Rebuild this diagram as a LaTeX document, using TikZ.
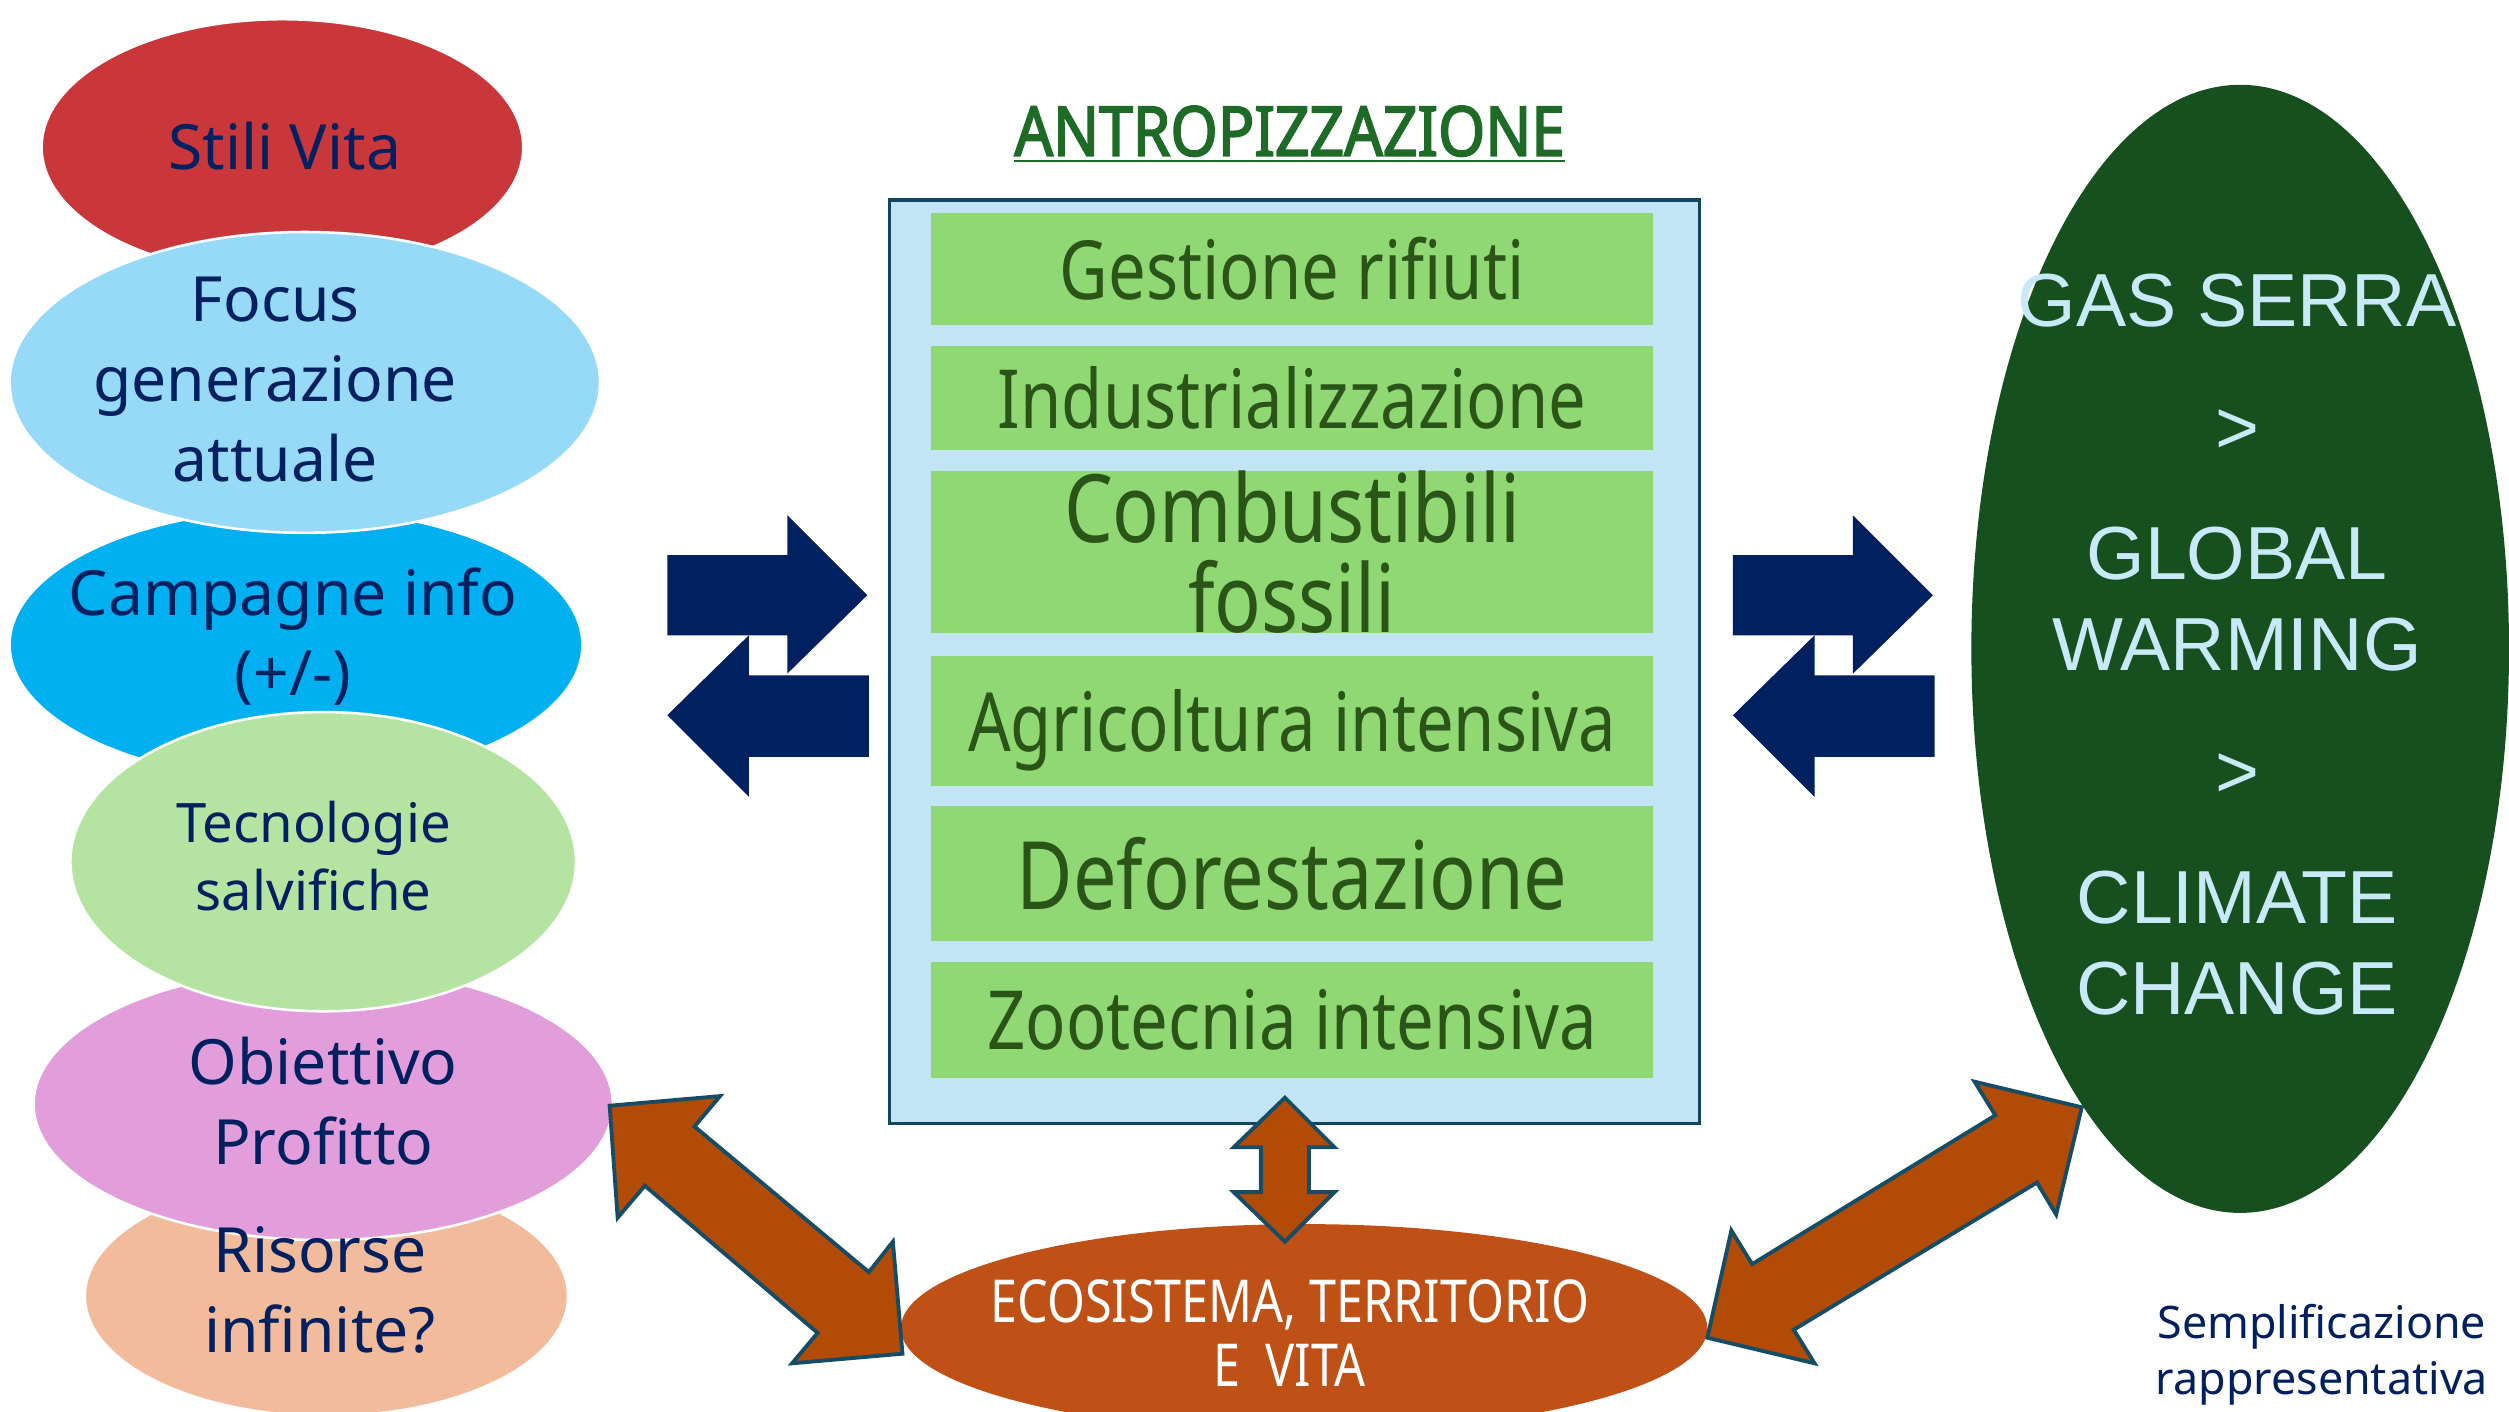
\documentclass[tikz,border=0pt]{standalone}
\usepackage{fontspec}
\setmainfont{Noto Sans}
\newfontfamily\narrowfont[FakeStretch=0.82]{Noto Sans}
\newfontfamily\titlefont[FakeStretch=0.88,FakeBold=2.5]{Noto Sans}
\newfontfamily\widefont{Liberation Sans}
\usetikzlibrary{shapes.geometric}

\definecolor{navy}{HTML}{002060}
\definecolor{stiliRed}{HTML}{C9373A}
\definecolor{focusBlue}{HTML}{97DAF7}
\definecolor{campBlue}{HTML}{00B0F0}
\definecolor{tecnoGreen}{HTML}{B5E4A2}
\definecolor{profitPink}{HTML}{E29DDB}
\definecolor{risorsePeach}{HTML}{F2BC9C}
\definecolor{boxBlue}{HTML}{C1E5F5}
\definecolor{boxEdge}{HTML}{12455E}
\definecolor{barGreen}{HTML}{8FD873}
\definecolor{barText}{HTML}{2B5418}
\definecolor{titleGreen}{HTML}{1E6B28}
\definecolor{climaGreen}{HTML}{17501F}
\definecolor{climaText}{HTML}{C8EAF8}
\definecolor{linkBrown}{HTML}{B24B05}
\definecolor{linkEdge}{HTML}{154D66}
\definecolor{ecoOrange}{HTML}{BF5016}

\begin{document}
\begin{tikzpicture}[x=0.5pt,y=-0.5pt,
    blob/.style={ellipse, draw=white, line width=0.8pt, inner sep=0pt},
    blobtext/.style={text=navy, align=center, inner sep=0pt,
        font=\fontsize{19.5}{25}\selectfont},
    bar/.style={fill=barGreen, minimum width=225.5pt, inner sep=0pt,
        text=barText, align=center, font=\narrowfont\fontsize{25.5}{30}\selectfont},
    flow/.style={fill=navy},
    link/.style={fill=linkBrown, draw=linkEdge, line width=1.2pt, line join=miter}]

    \useasboundingbox (0,0) rectangle (1568,882);

    % left column of ellipses
    \node[blob, fill=stiliRed, minimum width=150.5pt, minimum height=80pt] (stili) at (176.5,92) {};
    \node[blobtext] (stilitxt) at (178,91) {Stili Vita};
    \node[blob, fill=campBlue, minimum width=179pt, minimum height=85pt] (campagne) at (185,403) {};
    \node[blobtext] (campagnetxt) at (183,398) {Campagne info\\(+/-)};
    \node[blob, fill=focusBlue, minimum width=184.5pt, minimum height=94pt] (focus) at (190.5,239) {};
    \node[blobtext] (focustxt) at (172,237) {Focus\\generazione\\attuale};
    \node[blob, fill=risorsePeach, minimum width=151pt, minimum height=75pt] (risorse) at (204,810) {};
    \node[blob, fill=profitPink, minimum width=181pt, minimum height=85pt] (profitto) at (202,690) {};
    \node[blobtext] (profittotxt) at (202,688) {Obiettivo\\Profitto};
    \node[blob, fill=tecnoGreen, minimum width=158pt, minimum height=93.5pt] (tecno) at (202,538.5) {};
    \node[blobtext, font=\fontsize{17}{21}\selectfont] (tecnotxt) at (196,535) {Tecnologie\\salvifiche};
    \node[blobtext] (risorsetxt) at (200,806) {Risorse\\infinite?};

    % central box
    \node[text=titleGreen, font=\titlefont\fontsize{21.5}{25}\selectfont] (titolo) at (806,84) {\underline{ANTROPIZZAZIONE}};
    \node[draw=boxEdge, fill=boxBlue, line width=1pt, minimum width=253pt, minimum height=288.5pt] (antro) at (809,413.5) {};
    \node[bar, minimum height=35pt] (rifiuti) at (807.5,168) {Gestione rifiuti};
    \node[bar, minimum height=32.5pt] (industria) at (807.5,248.5) {Industrializzazione};
    \node[bar, minimum height=50pt, font=\narrowfont\fontsize{29.5}{28}\selectfont] (fossili) at (807.5,345) {Combustibili\\fossili};
    \node[bar, minimum height=40.5pt, text depth=0pt] (agricoltura) at (807.5,450.5) {Agricoltura intensiva};
    \node[bar, minimum height=42pt, font=\narrowfont\fontsize{29.5}{30}\selectfont] (deforest) at (807.5,546) {Deforestazione};
    \node[bar, minimum height=36.5pt] (zootecnia) at (807.5,637.5) {Zootecnia intensiva};

    % right ellipse
    \node[ellipse, fill=climaGreen, inner sep=0pt, minimum width=168pt, minimum height=352.5pt] (clima) at (1400,405.5) {};
    \node[text=climaText, align=center, font=\widefont\fontsize{23.5}{28.5}\selectfont] (climatxt) at (1398,403)
        {GAS SERRA\\[11pt] >\\[11pt] GLOBAL\\WARMING\\[11pt] >\\[11pt] CLIMATE\\CHANGE};

    % bottom ellipse
    \node[ellipse, fill=ecoOrange, inner sep=0pt, minimum width=252pt, minimum height=65pt] (eco) at (815,830) {};
    \node[text=white, align=center, font=\narrowfont\fontsize{18.5}{20}\selectfont] (ecotxt) at (806,833) {ECOSISTEMA, TERRITORIO\\E~~VITA};

    % blue exchange arrows
    \foreach \dx in {0,666} {
        \begin{scope}[shift={(\dx,0)}]
            \fill[flow] (417,347) -- (492,347) -- (492,322) -- (542,372) -- (492,421) -- (492,397) -- (417,397) -- cycle;
            \fill[flow] (417,447) -- (468,397) -- (468,422) -- (543,422) -- (543,473) -- (468,473) -- (468,498) -- cycle;
        \end{scope}
    }

    % brown double arrows
    \filldraw[link] (381,691) -- (450,685) -- (434,704) -- (543,795) -- (558,776) -- (564,846)
        -- (495,852) -- (511,833) -- (403,741) -- (386,761) -- cycle;
    \filldraw[link] (1301,692) -- (1285,759) -- (1273,739) -- (1121,831) -- (1134,852) -- (1067,836)
        -- (1082,769) -- (1095,790) -- (1247,697) -- (1234,676) -- cycle;
    \filldraw[link] (803,686) -- (834,717) -- (818,717) -- (818,745) -- (834,745) -- (803,776)
        -- (771,745) -- (788,745) -- (788,717) -- (771,717) -- cycle;

    % note
    \node[text=navy, align=center, font=\fontsize{14}{17.5}\selectfont] (nota) at (1451,846.5) {Semplificazione\\rappresentativa};
\end{tikzpicture}
\end{document}
